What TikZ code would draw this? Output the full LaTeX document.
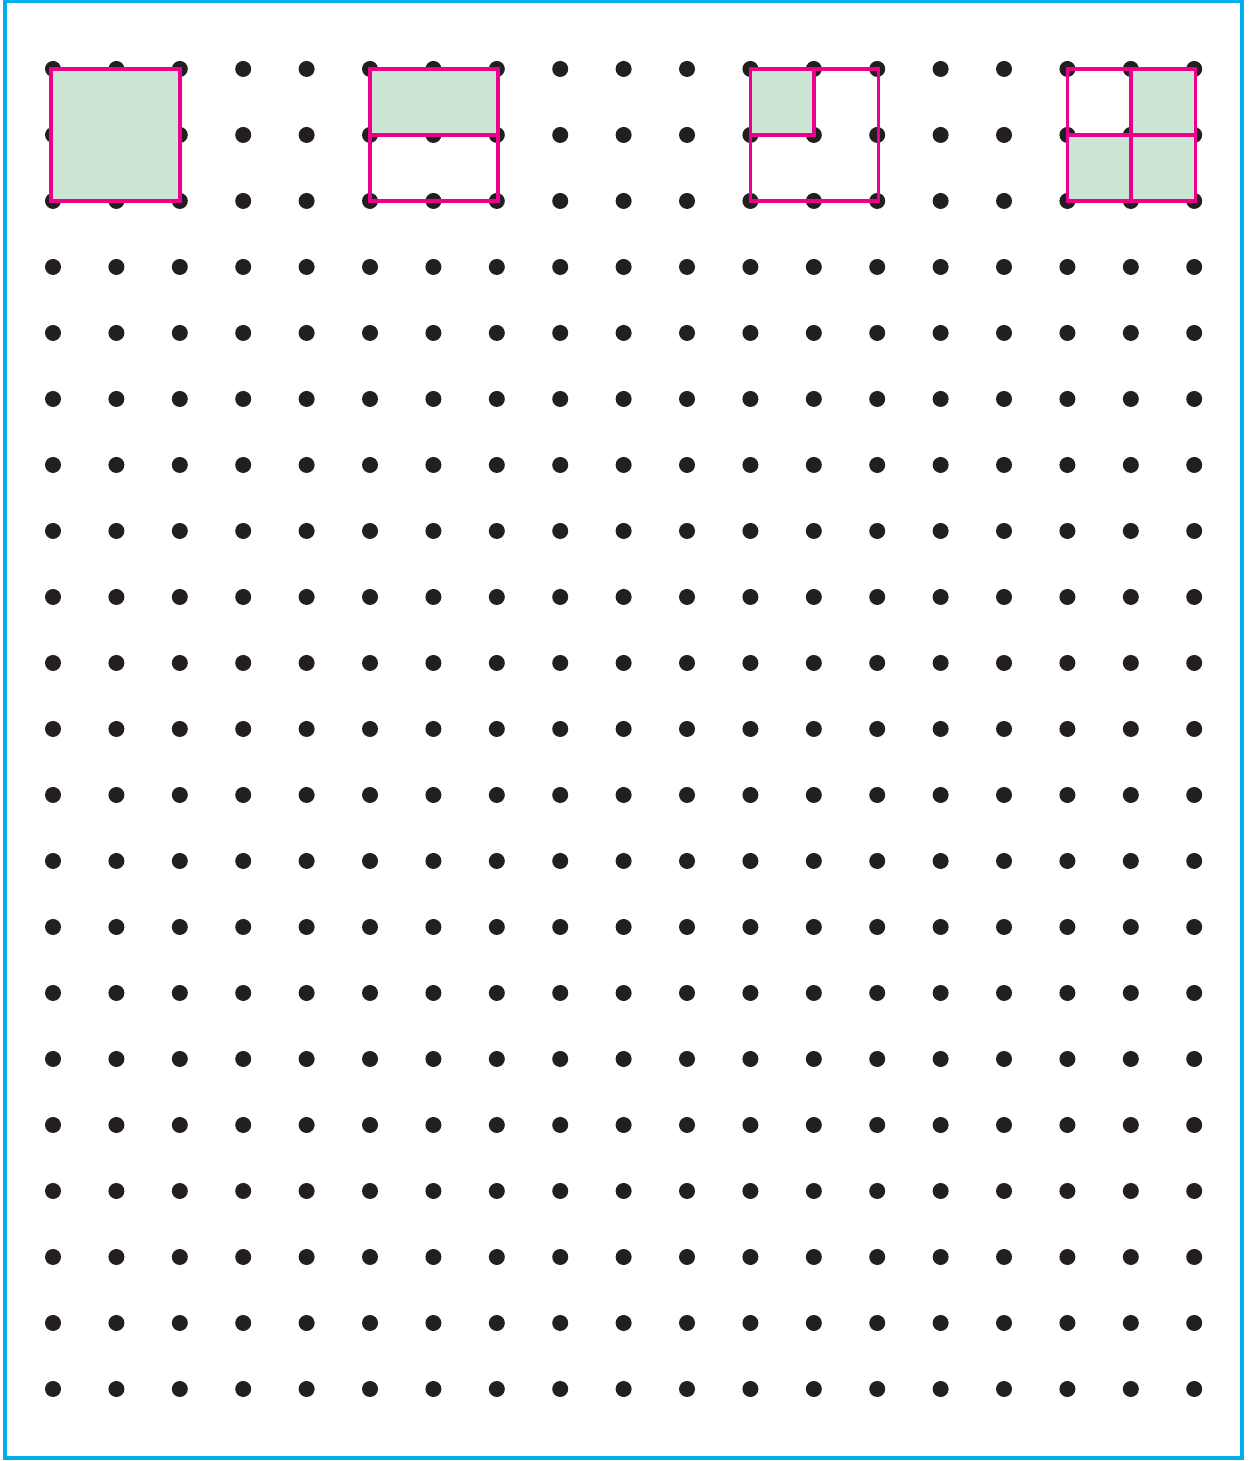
\documentclass[tikz,border=0pt]{standalone}
\usepackage{xcolor}
\usepackage{tikz}
\definecolor{DotBlack}{HTML}{231F20}
\definecolor{FramePink}{HTML}{EC008C}
\definecolor{ShadeGreen}{HTML}{CCE6D6}
\definecolor{BorderCyan}{HTML}{00AEEF}
\tikzset{
  part/.style={fill=ShadeGreen, draw=none},
  edge/.style={draw=FramePink, line width=2pt}
}

\begin{document}
\begin{tikzpicture}[x=1.268cm, y=1.32cm]
        \useasboundingbox (-0.836,-1.091) rectangle (18.943,21.045);
        % Outer frame
        \draw[BorderCyan, line width=1.8pt] (-0.757,-1.045) rectangle (18.754,21.03);

        % Dot grid
        \foreach \i in {0,...,18}
          \foreach \j in {0,...,20}
            \fill[DotBlack] (\i,\j) circle (0.16cm);

        % Whole
        \fill[part] (-0.03,18) rectangle (2,20);
        \draw[edge] (-0.03,18) rectangle (2,20);

        % One half
        \fill[part] (5,19) rectangle (7.02,20);
        \draw[edge] (5,18) rectangle (7.02,20);
        \draw[edge] (5,19) -- (7.02,19);

        % One quarter
        \fill[part] (11,19) rectangle (12,20);
        \draw[edge] (11,18) rectangle (13.02,20);
        \draw[edge] (11,19) -- (12,19) -- (12,20);

        % Three quarters
        \fill[part] (17,19) rectangle (18.02,20);
        \fill[part] (16,18) rectangle (18.02,19);
        \draw[edge] (16,18) rectangle (18.02,20);
        \draw[edge] (16,19) -- (18.02,19);
        \draw[edge] (17,18) -- (17,20);
    \end{tikzpicture}
\end{document}
